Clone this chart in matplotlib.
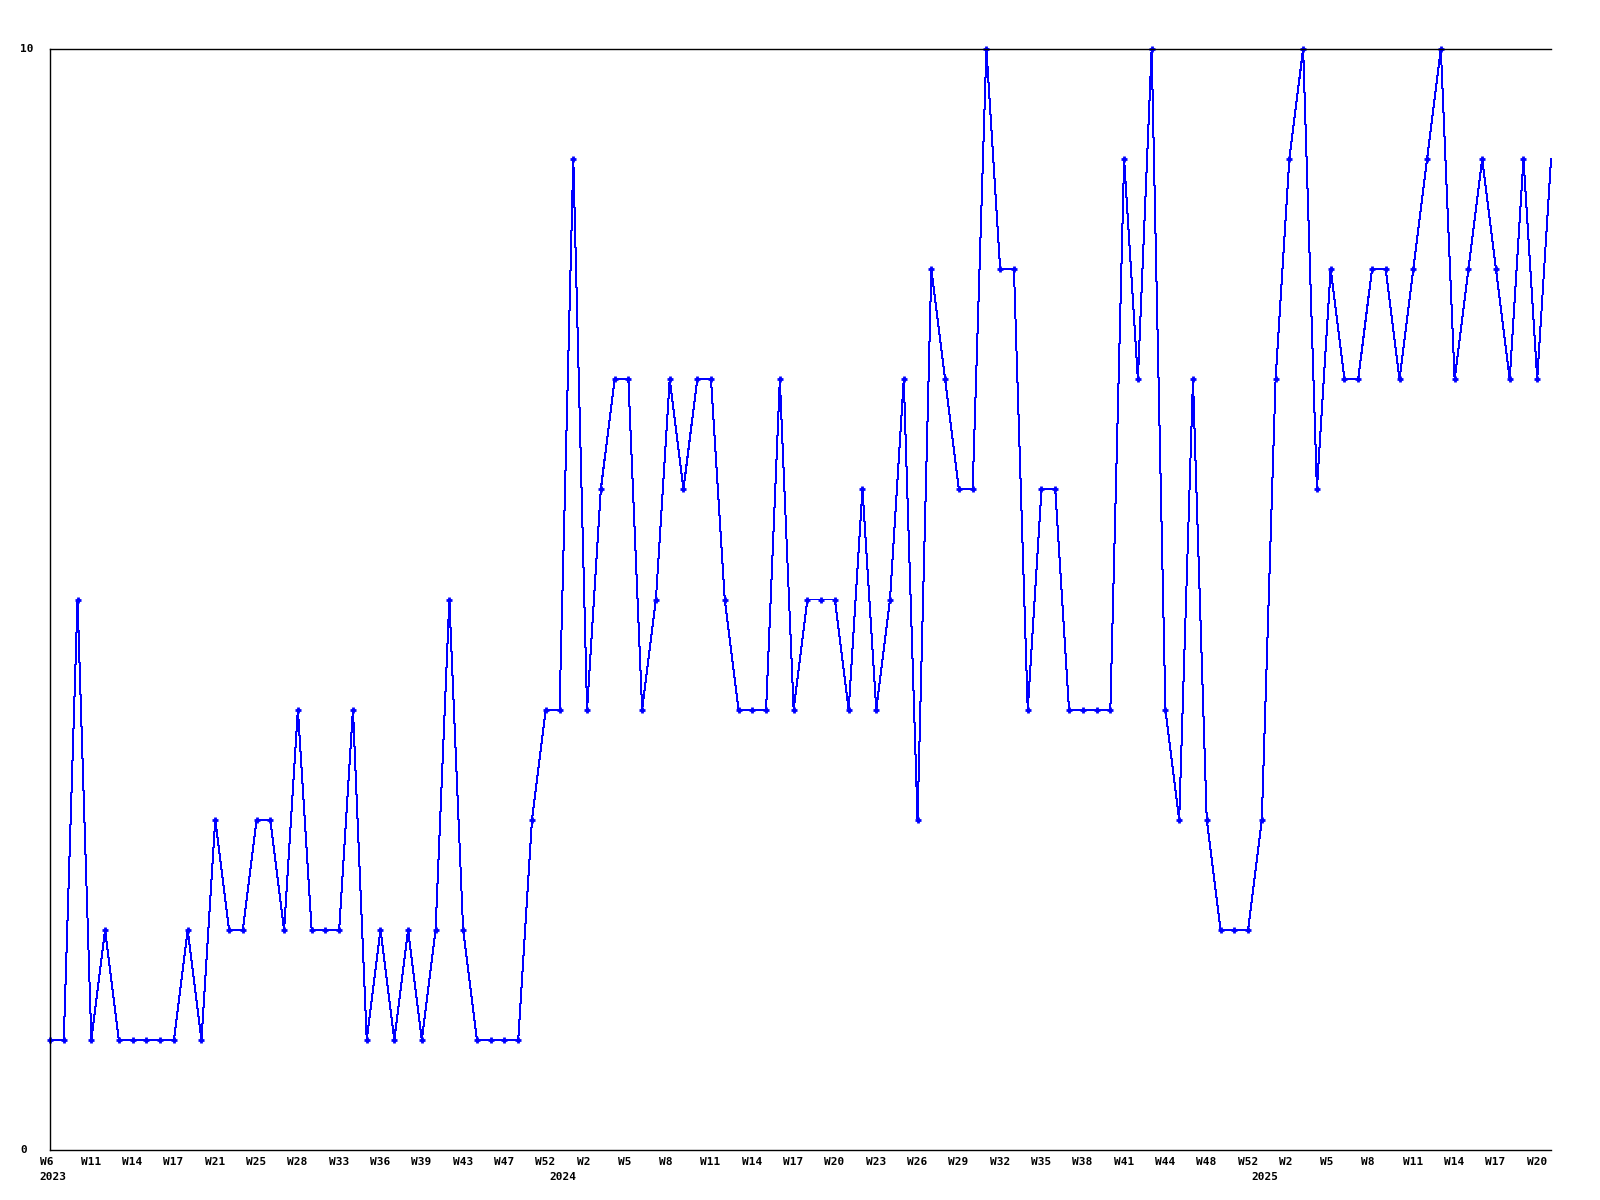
import matplotlib
matplotlib.use("Agg")
import matplotlib.pyplot as plt
from matplotlib.transforms import offset_copy

# one value per sample, left to right
values = [1, 1, 5, 1, 2, 1, 1, 1, 1, 1,
          2, 1, 3, 2, 2, 3, 3, 2, 4, 2,
          2, 2, 4, 1, 2, 1, 2, 1, 2, 5,
          2, 1, 1, 1, 1, 3, 4, 4, 9, 4,
          6, 7, 7, 4, 5, 7, 6, 7, 7, 5,
          4, 4, 4, 7, 4, 5, 5, 5, 4, 6,
          4, 5, 7, 3, 8, 7, 6, 6, 10, 8,
          8, 4, 6, 6, 4, 4, 4, 4, 9, 7,
          10, 4, 3, 7, 3, 2, 2, 2, 3, 7,
          9, 10, 6, 8, 7, 7, 8, 8, 7, 8,
          9, 10, 7, 8, 9, 8, 7, 9, 7, 9]

# week labels shown on every third sample
week_labels = ["W6", "W11", "W14", "W17", "W21", "W25", "W28", "W33", "W36",
               "W39", "W43", "W47", "W52", "W2", "W5", "W8", "W11", "W14",
               "W17", "W20", "W23", "W26", "W29", "W32", "W35", "W38", "W41",
               "W44", "W48", "W52", "W2", "W5", "W8", "W11", "W14", "W17", "W20"]
year_pos = [0, 37, 88]
year_labels = ["2023", "2024", "2025"]

font = dict(family="DejaVu Sans Mono", weight="bold", size=8)

fig = plt.figure(figsize=(16, 12), dpi=100)
ax = fig.add_axes([50 / 1600, 50 / 1200, 1501 / 1600, 1101 / 1200])

x = list(range(len(values)))
ax.plot(x, values, color="#0000ff", linewidth=0.72, antialiased=False,
        clip_on=False)
ax.plot(x[:-1], values[:-1], linestyle="none", color="#0000ff", marker="+",
        markersize=5, markeredgewidth=2, clip_on=False)

ax.set_xlim(0, len(values) - 1)
ax.set_ylim(0, 10)
ax.set_xticks([])
ax.set_yticks([])
ax.spines["right"].set_visible(False)
for s in ["left", "top", "bottom"]:
    ax.spines[s].set_linewidth(1)

week_tr = offset_copy(ax.get_xaxis_transform(), fig=fig, x=-10.5, y=-7, units="dots")
for i, lab in enumerate(week_labels):
    ax.text(i * 3, 0, lab, transform=week_tr, ha="left", va="top", **font)

year_tr = offset_copy(ax.get_xaxis_transform(), fig=fig, x=-10.5, y=-22, units="dots")
for p, lab in zip(year_pos, year_labels):
    ax.text(p, 0, lab, transform=year_tr, ha="left", va="top", **font)

y_tr = offset_copy(ax.get_yaxis_transform(), fig=fig, x=-30, y=0, units="dots")
ax.text(0, 10, "10", transform=y_tr, ha="left", va="center", **font)
ax.text(0, 0, "0", transform=y_tr, ha="left", va="center", **font)

fig.savefig("out.png", dpi=100)
